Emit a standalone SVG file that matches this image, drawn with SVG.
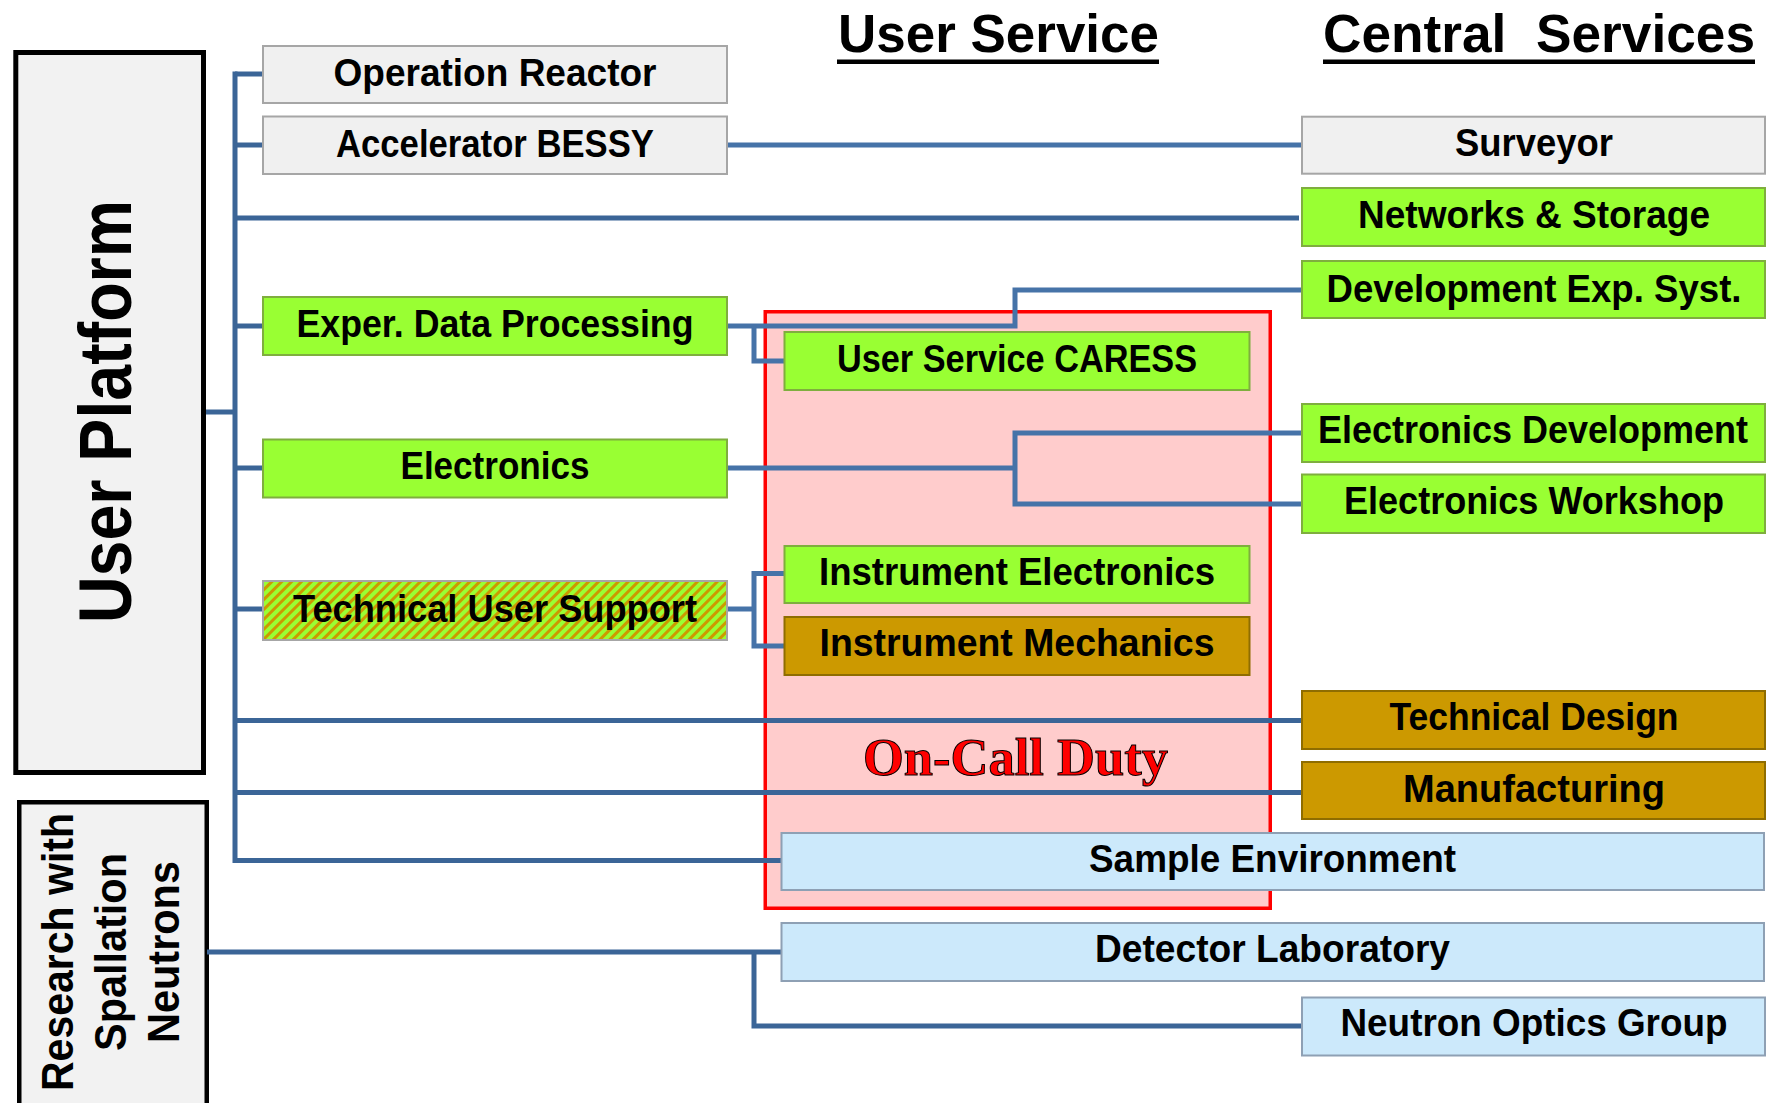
<svg xmlns="http://www.w3.org/2000/svg" width="1767" height="1103" viewBox="0 0 1767 1103">
  <style>
    .lbl { font-family: "Liberation Sans", Arial, sans-serif; font-weight: bold; font-size: 39px; fill: #000; text-anchor: middle; }
    .hdr { font-family: "Liberation Sans", Arial, sans-serif; font-weight: bold; font-size: 53px; fill: #000; white-space: pre; }
    .side { font-family: "Liberation Sans", Arial, sans-serif; font-weight: bold; fill: #000; text-anchor: middle; }
    .gray { fill: #f0f0f0; stroke: #a6a6a6; stroke-width: 2; }
    .green { fill: #99ff33; stroke: #7fae3e; stroke-width: 2; }
    .gold { fill: #cc9900; stroke: #8f6d00; stroke-width: 2; }
    .blue { fill: #cce9fb; stroke: #8ea0b4; stroke-width: 2; }
    .stripe { fill: url(#hatch); stroke: #a6a6a6; stroke-width: 2; }
    .c { fill: none; stroke: #3b6597; stroke-width: 5; }
    .c2 { fill: none; stroke: #4673a8; stroke-width: 5; }
  </style>
  <defs>
    <pattern id="hatch" patternUnits="userSpaceOnUse" width="7" height="7" patternTransform="rotate(45)">
      <rect width="7" height="7" fill="#99ff33"/>
      <rect width="3" height="7" fill="#cc9900"/>
    </pattern>
  </defs>

  <rect width="1767" height="1103" fill="#ffffff"/>

  <!-- column headings -->
  <g id="heading-user-service">
    <text class="hdr" x="838" y="51.5" textLength="321" lengthAdjust="spacingAndGlyphs">User Service</text>
    <rect x="837" y="59.5" width="322" height="4.5" fill="#000"/>
  </g>
  <g id="heading-central-services">
    <text class="hdr" x="1323" y="51.5" textLength="432" lengthAdjust="spacingAndGlyphs">Central  Services</text>
    <rect x="1323" y="59.5" width="432" height="4.5" fill="#000"/>
  </g>

  <!-- platforms -->
  <g id="user-platform">
    <rect x="15.8" y="52.5" width="187.7" height="720" fill="#f2f2f2" stroke="#000" stroke-width="5"/>
    <text class="side" font-size="75" transform="translate(130.7,411.5) rotate(-90)" textLength="423" lengthAdjust="spacingAndGlyphs">User Platform</text>
  </g>
  <g id="research-spallation">
    <rect x="19.25" y="802.25" width="187.5" height="320" fill="#f2f2f2" stroke="#000" stroke-width="4.5"/>
    <text class="side" font-size="44" transform="translate(73,952) rotate(-90)" textLength="278" lengthAdjust="spacingAndGlyphs">Research with</text>
    <text class="side" font-size="44" transform="translate(126,952) rotate(-90)" textLength="198" lengthAdjust="spacingAndGlyphs">Spallation</text>
    <text class="side" font-size="44" transform="translate(179,952) rotate(-90)" textLength="182" lengthAdjust="spacingAndGlyphs">Neutrons</text>
  </g>

  <!-- on-call duty area -->
  <g id="on-call-duty">
    <rect x="765.25" y="311.75" width="505" height="596.5" fill="#ffcccc" stroke="#ff0000" stroke-width="3.5"/>
    <text x="1015.5" y="775" font-family="'Liberation Serif', 'Times New Roman', serif" font-weight="bold" font-size="52" fill="#ff0000" stroke="#000" stroke-width="1" text-anchor="middle" textLength="305" lengthAdjust="spacingAndGlyphs">On-Call Duty</text>
  </g>

  <!-- connectors -->
  <g id="connectors">
    <path class="c" d="M235 71.5 V863"/>
    <path class="c" d="M235 74 H263"/>
    <path class="c" d="M235 145 H263"/>
    <path class="c2" d="M727 145 H1302"/>
    <path class="c" d="M235 218 H1299"/>
    <path class="c" d="M235 326 H263"/>
    <path class="c" d="M206 412 H235"/>
    <path class="c" d="M235 468 H263"/>
    <path class="c" d="M235 609 H263"/>
    <path class="c" d="M235 720.5 H1302"/>
    <path class="c" d="M235 792.5 H1302"/>
    <path class="c" d="M235 860.5 H782"/>
    <path class="c2" d="M727 326 H1015 V290 H1302"/>
    <path class="c2" d="M754 326 V361 H785"/>
    <path class="c2" d="M727 468 H1015"/>
    <path class="c2" d="M1302 433 H1015 V504 H1302"/>
    <path class="c2" d="M727 609 H754"/>
    <path class="c2" d="M785 573.5 H754 V646 H785"/>
    <path class="c" d="M207 952 H782"/>
    <path class="c" d="M754 952 V1026 H1302"/>
  </g>

  <!-- User Platform units -->
  <g id="operation-reactor">
    <rect class="gray" x="263" y="46" width="464" height="57"/>
    <text class="lbl" x="495" y="86" textLength="323" lengthAdjust="spacingAndGlyphs">Operation Reactor</text>
  </g>
  <g id="accelerator-bessy">
    <rect class="gray" x="263" y="116.5" width="464" height="57.5"/>
    <text class="lbl" x="495" y="156.7" textLength="318" lengthAdjust="spacingAndGlyphs">Accelerator BESSY</text>
  </g>
  <g id="exper-data-processing">
    <rect class="green" x="263" y="297" width="464" height="58"/>
    <text class="lbl" x="495" y="336.7" textLength="397" lengthAdjust="spacingAndGlyphs">Exper. Data Processing</text>
  </g>
  <g id="electronics">
    <rect class="green" x="263" y="439.5" width="464" height="58"/>
    <text class="lbl" x="495" y="479.3" textLength="189" lengthAdjust="spacingAndGlyphs">Electronics</text>
  </g>
  <g id="technical-user-support">
    <rect class="stripe" x="263" y="581" width="464" height="59"/>
    <text class="lbl" x="495" y="621.5" textLength="404" lengthAdjust="spacingAndGlyphs">Technical User Support</text>
  </g>

  <!-- User Service units -->
  <g id="user-service-caress">
    <rect class="green" x="784.5" y="332" width="465" height="58"/>
    <text class="lbl" x="1017" y="371.7" textLength="360" lengthAdjust="spacingAndGlyphs">User Service CARESS</text>
  </g>
  <g id="instrument-electronics">
    <rect class="green" x="784.5" y="546" width="465" height="57"/>
    <text class="lbl" x="1017" y="585" textLength="396" lengthAdjust="spacingAndGlyphs">Instrument Electronics</text>
  </g>
  <g id="instrument-mechanics">
    <rect class="gold" x="784.5" y="617" width="465" height="58"/>
    <text class="lbl" x="1017" y="656" textLength="395" lengthAdjust="spacingAndGlyphs">Instrument Mechanics</text>
  </g>
  <g id="sample-environment">
    <rect class="blue" x="781.5" y="833" width="982.5" height="57"/>
    <text class="lbl" x="1272.5" y="871.7" textLength="367" lengthAdjust="spacingAndGlyphs">Sample Environment</text>
  </g>
  <g id="detector-laboratory">
    <rect class="blue" x="781.5" y="923" width="982.5" height="58"/>
    <text class="lbl" x="1272.5" y="961.7" textLength="355" lengthAdjust="spacingAndGlyphs">Detector Laboratory</text>
  </g>

  <!-- Central Services units -->
  <g id="surveyor">
    <rect class="gray" x="1302" y="116.7" width="463" height="57"/>
    <text class="lbl" x="1534" y="156" textLength="158" lengthAdjust="spacingAndGlyphs">Surveyor</text>
  </g>
  <g id="networks-storage">
    <rect class="green" x="1302" y="188" width="463" height="58"/>
    <text class="lbl" x="1534" y="227.7" textLength="352" lengthAdjust="spacingAndGlyphs">Networks &amp; Storage</text>
  </g>
  <g id="development-exp-syst">
    <rect class="green" x="1302" y="261" width="463" height="57"/>
    <text class="lbl" x="1534" y="301.7" textLength="415" lengthAdjust="spacingAndGlyphs">Development Exp. Syst.</text>
  </g>
  <g id="electronics-development">
    <rect class="green" x="1302" y="404" width="463" height="58"/>
    <text class="lbl" x="1533" y="443.3" font-size="36" textLength="430" lengthAdjust="spacingAndGlyphs">Electronics Development</text>
  </g>
  <g id="electronics-workshop">
    <rect class="green" x="1302" y="474.5" width="463" height="58.5"/>
    <text class="lbl" x="1534" y="514" textLength="380" lengthAdjust="spacingAndGlyphs">Electronics Workshop</text>
  </g>
  <g id="technical-design">
    <rect class="gold" x="1302" y="691" width="463" height="58"/>
    <text class="lbl" x="1534" y="730" textLength="289" lengthAdjust="spacingAndGlyphs">Technical Design</text>
  </g>
  <g id="manufacturing">
    <rect class="gold" x="1302" y="762" width="463" height="57"/>
    <text class="lbl" x="1534" y="801.5" textLength="262" lengthAdjust="spacingAndGlyphs">Manufacturing</text>
  </g>
  <g id="neutron-optics-group">
    <rect class="blue" x="1302" y="997.5" width="463" height="58"/>
    <text class="lbl" x="1534" y="1036" textLength="387" lengthAdjust="spacingAndGlyphs">Neutron Optics Group</text>
  </g>
</svg>
